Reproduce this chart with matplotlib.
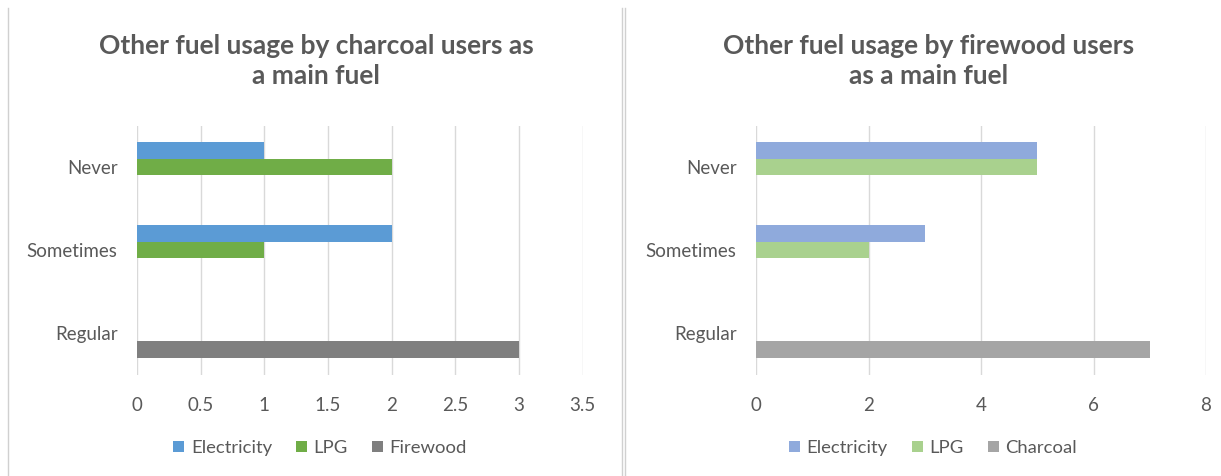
import matplotlib
matplotlib.use("Agg")
import matplotlib.pyplot as plt
import numpy as np

plt.rcParams['font.family'] = ['Lato', 'DejaVu Sans']

categories = ["Never", "Sometimes", "Regular"]

left_title = "Other fuel usage by charcoal users as\na main fuel"
left_series = ["Electricity", "LPG", "Firewood"]
left_values = {
    "Electricity": [1, 2, 0],
    "LPG": [2, 1, 0],
    "Firewood": [0, 0, 3],
}
left_colors = ["#5B9BD5", "#70AD47", "#7F7F7F"]
left_xticks = [0, 0.5, 1, 1.5, 2, 2.5, 3, 3.5]
left_xticklabels = ["0", "0.5", "1", "1.5", "2", "2.5", "3", "3.5"]

right_title = "Other fuel usage by firewood users\nas a main fuel"
right_series = ["Electricity", "LPG", "Charcoal"]
right_values = {
    "Electricity": [5, 3, 0],
    "LPG": [5, 2, 0],
    "Charcoal": [0, 0, 7],
}
right_colors = ["#8FAADC", "#A9D18E", "#A5A5A5"]
right_xticks = [0, 2, 4, 6, 8]
right_xticklabels = ["0", "2", "4", "6", "8"]

W, H = 1221, 476
fig = plt.figure(figsize=(W / 100, H / 100), dpi=100)
fig.patch.set_facecolor("white")

TXT = "#595959"


def px_axes(x0, y_top, x1, y_bot):
    return fig.add_axes([x0 / W, 1 - y_bot / H, (x1 - x0) / W, (y_bot - y_top) / H])


def draw(ax, series, values, colors, xticks, xticklabels, title, cx, legend_cx):
    y = np.arange(len(categories))
    h = 0.2
    offsets = [-h, 0, h]
    handles = []
    for s, c, off in zip(series, colors, offsets):
        b = ax.barh(y + off, values[s], height=h, color=c, linewidth=0,
                    label=s, zorder=3)
        handles.append(b)
    ax.set_ylim(2.5, -0.5)
    ax.set_xlim(xticks[0], xticks[-1])
    ax.set_xticks(xticks)
    ax.set_xticklabels(xticklabels)
    ax.set_yticks(y)
    ax.set_yticklabels(categories)
    ax.tick_params(axis="both", length=0, colors=TXT, labelsize=13.5)
    ax.tick_params(axis="x", pad=16)
    ax.tick_params(axis="y", pad=14)
    for sp in ax.spines.values():
        sp.set_visible(False)
    ax.grid(axis="x", color="#D9D9D9", linewidth=1, zorder=0)
    ax.set_axisbelow(True)
    fig.text(cx / W, 1 - 61 / H, title, ha="center", va="center",
             fontsize=19, fontweight="bold", color=TXT, linespacing=1.25)
    fig.legend(handles=handles, labels=series, loc="center",
               bbox_to_anchor=(legend_cx / W, 1 - 448 / H), ncol=3,
               frameon=False, fontsize=13.3, handlelength=0.6, handleheight=0.6,
               handletextpad=0.35, columnspacing=1.3, labelcolor=TXT)


axL = px_axes(137, 125.5, 582.5, 374.5)
draw(axL, left_series, left_values, left_colors, left_xticks, left_xticklabels,
     left_title, 316, 320)

axR = px_axes(756, 125.5, 1206, 374.5)
draw(axR, right_series, right_values, right_colors, right_xticks, right_xticklabels,
     right_title, 929, 933)

# sheet borders from the screenshot
for xp in (8, 622, 625):
    fig.add_artist(plt.Line2D([xp / W, xp / W], [0, 1 - 8 / H],
                              color="#D0D0D0", linewidth=1))

fig.savefig("out.png", dpi=100, facecolor="white")
